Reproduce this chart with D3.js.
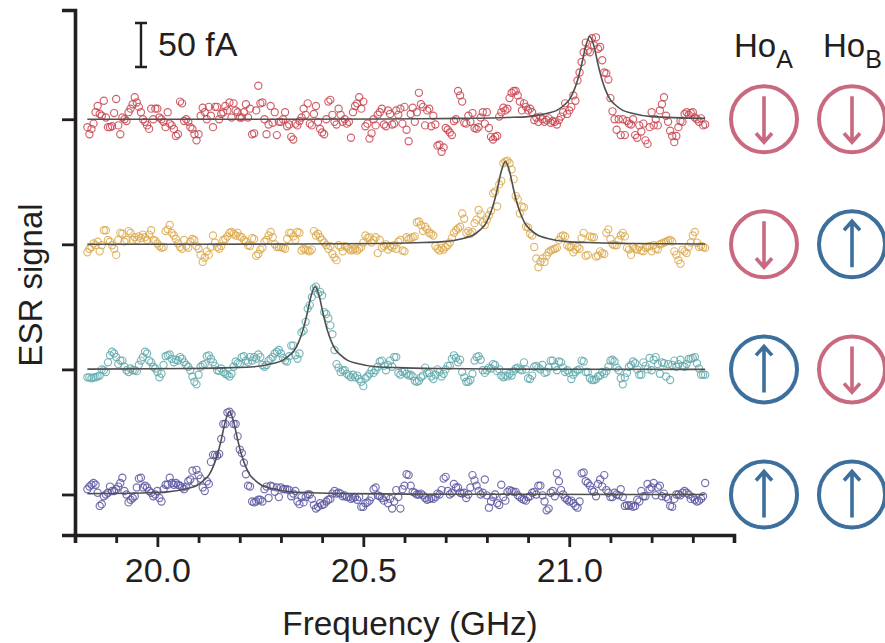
<!DOCTYPE html>
<html>
<head>
<meta charset="utf-8">
<script src="https://cdn.jsdelivr.net/npm/d3@7"></script>
<style>
  html, body { margin: 0; padding: 0; background: #fff; }
  svg { display: block; }
  text { font-family: "Liberation Sans", sans-serif; fill: #231f20; }
</style>
</head>
<body>
<svg id="chart"></svg>
<script>
// ESR signal (fA), one value per 5 MHz sweep step
const redSignal = [
  -9,-17,-11,-5,8,15,6,4,21,2,-9,-9,-8,7,23,-7,-17,2,0,-2,
  8,12,17,25,19,14,8,0,-3,-7,-11,12,0,12,12,2,0,-3,-9,8,
  -5,-7,-11,-19,-17,20,18,-2,0,-3,-9,-11,-17,-24,-17,4,13,8,0,14,
  4,-9,14,14,0,6,8,15,10,19,2,18,10,8,2,2,8,17,2,12,
  -17,-16,10,38,18,19,0,-17,-6,15,-4,8,-18,-3,-3,0,8,-8,-6,-20,
  -23,-5,-7,-2,2,12,5,18,-5,-7,6,15,-3,-11,-15,-17,0,20,22,5,
  -3,-6,12,5,-3,0,-5,-3,-21,8,15,18,25,12,20,-8,-5,-22,-16,0,
  -7,5,8,12,-6,-8,10,6,-6,-5,10,5,12,-5,14,-12,-25,6,13,-3,
  8,30,17,14,-7,10,12,-8,4,-6,-30,-29,-37,-32,-10,-12,-15,-18,-2,0,
  32,27,20,-4,-5,4,-3,7,-10,-11,-9,2,8,-5,8,-10,-20,-23,-20,-19,
  3,8,13,10,12,24,30,32,32,27,20,10,18,14,10,12,8,-1,2,-3,
  3,0,-3,-1,1,-4,-2,-3,-6,-1,3,8,18,6,10,14,27,21,44,53,
  65,76,87,78,76,92,84,93,80,82,67,53,52,45,24,9,0,-12,0,-18,
  0,-18,-2,-5,-6,0,-18,-21,-7,-14,-5,-24,-28,-9,8,-7,0,-7,10,17,
  25,4,-3,-13,-19,-26,-19,-9,-2,-3,6,8,5,7,8,2,0,-3,1,-7,-6
];
const yellowSignal = [
  -9,-5,-3,1,-1,3,-8,-1,16,16,5,3,-1,-5,-12,5,13,12,3,5,
  15,13,5,8,5,9,7,11,8,5,11,16,5,4,1,-2,-4,-3,15,17,
  22,13,10,6,1,-3,-5,5,-2,-4,3,6,5,-2,-5,-12,-20,-15,-8,-12,
  -3,10,2,-3,-5,-2,5,6,9,13,14,12,10,13,9,8,5,3,-1,-2,
  7,6,-13,-11,-6,-4,3,5,10,14,8,0,-3,-3,-3,-4,-5,6,13,13,
  9,5,14,13,-7,-5,-6,-7,-8,-6,15,10,12,8,5,2,-1,-5,-2,-11,
  -15,-18,-1,-3,-8,-2,-3,-5,-7,-6,-5,-7,-5,-3,2,10,7,8,2,5,
  8,-10,5,-4,-2,0,-6,-2,-4,-1,-5,3,5,-7,-8,8,6,7,8,9,
  25,26,22,15,20,17,13,12,10,-2,-5,-7,-4,-6,-3,-1,2,7,13,16,
  18,20,35,29,13,15,12,14,24,28,39,34,25,22,28,33,38,58,60,43,
  68,72,92,94,95,92,85,74,55,51,35,43,42,20,19,12,10,-3,-16,-26,
  -20,-16,-20,-13,-9,-7,-6,-5,-4,5,9,10,9,-1,-3,-3,-9,-6,-3,-5,
  7,13,-13,-12,9,8,8,-14,-13,-8,-10,-11,13,17,6,0,-1,-1,5,10,
  13,9,-4,-6,-12,-3,-5,-6,-3,-7,-8,-4,-3,-2,-8,-1,-5,-6,0,1,
  2,3,4,5,3,-8,-12,-18,-22,-6,-8,-10,-3,2,10,14,2,-3,-2,-3,-4
];
const tealSignal = [
  -9,-9,-10,-9,-9,-8,-7,0,-1,-3,8,16,20,18,14,6,10,10,3,-1,
  -3,1,-1,-1,-2,5,10,14,20,18,10,8,3,1,-3,-9,-5,5,15,16,
  17,12,8,11,10,14,12,8,5,3,-1,-8,-14,-17,-6,3,5,6,15,16,
  12,8,4,-1,-2,1,-3,-5,-6,-8,-5,3,9,7,6,14,15,10,8,14,
  10,14,12,17,14,5,3,5,10,12,14,18,20,22,18,13,10,9,15,27,
  27,16,12,18,42,44,54,69,73,82,92,94,86,88,84,65,63,58,50,40,
  22,6,2,-3,-1,-1,-5,-7,-9,-6,-9,-7,-11,-14,-19,-10,-8,-5,-1,-4,
  -1,3,9,10,4,-1,5,10,3,14,14,-4,-6,-3,-2,-5,-7,-6,-8,-13,
  -14,-13,-9,-7,2,-4,-4,-8,-11,-6,0,-3,-8,-5,0,4,4,12,16,13,
  8,11,-3,-9,-14,-14,-12,-5,10,14,15,11,-1,-4,-1,2,1,6,5,-2,
  0,-7,-9,-7,-8,-5,-7,-2,1,2,0,-1,8,0,-10,-11,-7,3,4,2,
  0,5,-4,-3,2,10,10,3,-1,9,8,2,-3,-1,-4,-11,-6,-3,-1,0,
  10,9,-3,-3,-10,-12,-12,-11,-8,-7,-3,-5,-2,3,10,11,9,2,-1,-10,
  -17,-9,-4,3,5,9,7,0,-6,-6,8,4,0,13,-1,11,14,6,-5,8,
  7,-8,6,-12,5,10,3,6,11,4,3,6,12,12,13,14,7,1,-6,-6,-6
];
const purpleSignal = [
  6,9,11,13,11,2,-13,-11,-2,0,2,9,4,4,6,9,13,19,4,0,
  -9,-6,-4,-2,8,18,19,8,10,8,4,2,-2,0,4,-4,-8,6,11,11,
  19,13,11,13,11,10,8,6,9,15,17,27,14,28,22,18,8,4,15,12,
  37,45,45,44,46,63,80,80,93,94,91,80,80,66,51,47,36,23,10,9,
  -8,-9,-8,-6,-6,-8,6,9,-4,10,9,3,8,-3,8,6,6,6,5,-2,
  1,4,-8,-11,-3,-9,-3,0,0,-5,-12,-16,-14,-10,-12,-11,-8,-6,-5,1,
  4,1,2,1,-2,-1,-3,-3,-5,-4,-3,-6,-3,-14,-14,-10,-9,-7,-3,6,
  8,-1,-2,-4,-7,-3,-10,-5,-16,-8,5,-3,-16,6,10,23,22,10,3,2,
  0,0,1,-1,-4,-6,-5,-4,-5,-3,1,0,5,18,20,4,0,2,12,8,
  8,2,1,2,-4,0,8,22,16,10,4,0,2,17,-1,-15,-8,-3,0,-10,
  -12,11,-3,-7,3,5,4,3,3,-1,-3,-5,-6,-7,-3,-2,2,3,0,10,
  10,-1,-8,-18,-16,2,4,-2,24,15,5,0,-4,-6,-8,-7,-10,-13,-15,-8,
  24,25,15,13,10,5,3,-2,12,17,9,22,5,2,-3,-3,2,0,-1,6,
  -3,-13,-12,-13,-12,-14,-13,-6,-8,4,-2,-2,12,6,8,13,-1,8,10,-2,
  1,-3,-5,-13,-14,-5,0,0,-1,2,4,2,0,-5,-3,-6,-8,-7,-5,-2,13
];

// Fitted curves, frequency (GHz) and signal (fA)
const redFitFreq = [19.83,20.3,20.55,20.75,20.85,20.9,20.95,20.97,20.99,21.0,21.01,21.02,21.03,21.04,21.05,21.06,21.07,21.08,21.09,21.1,21.11,21.13,21.15,21.2,21.33];
const redFit = [0,0,0.3,1,2,3,7,10,17,22,31,44,62,83,94,83,62,44,31,22,17,10,7,3,1];
const yellowFitFreq = [19.83,20.1,20.345,20.545,20.645,20.695,20.745,20.765,20.785,20.795,20.805,20.815,20.825,20.835,20.845,20.855,20.865,20.875,20.885,20.895,20.905,20.925,20.945,20.995,21.045,21.145,21.33];
const yellowFit = [0,0,0.3,1,2,3,7,10,17,22,31,44,62,83,94,83,62,44,31,22,17,10,7,3,2,1,0.3];
const tealFitFreq = [19.83,20.083,20.183,20.233,20.283,20.303,20.323,20.333,20.343,20.353,20.363,20.373,20.383,20.393,20.403,20.413,20.423,20.433,20.443,20.463,20.483,20.533,20.583,20.683,20.883,21.33];
const tealFit = [0.3,1,2,3,7,10,17,22,31,44,62,83,94,83,62,44,31,22,17,10,7,3,2,1,0.3,0];
const purpleFitFreq = [19.83,19.975,20.025,20.075,20.095,20.115,20.125,20.135,20.145,20.155,20.165,20.175,20.185,20.195,20.205,20.215,20.225,20.235,20.255,20.275,20.325,20.375,20.475,20.675,21.33];
const purpleFit = [1,2,3,7,10,17,22,31,44,62,83,94,83,62,44,31,22,17,10,7,3,2,1,0.3,0];

// Vertical offset of each trace (fA), top to bottom
const traceOffsets = [426, 284, 142, 0];
const traceColors = ["#c8444f", "#dcaa50", "#62a9ad", "#5b57a0"];

const xTicks = [19.8,19.9,20.0,20.1,20.2,20.3,20.4,20.5,20.6,20.7,20.8,20.9,21.0,21.1,21.2,21.3,21.4];
const xLabelled = [20.0, 20.5, 21.0];
const sweepRange = [19.83, 21.33];

// Spin states per row, columns are Ho_A and Ho_B
const spinA = ["down", "down", "up", "up"];
const spinB = ["down", "up", "down", "up"];
const spinColors = { down: "#c9697f", up: "#3c6f9c" };

const traces = [
  { signal: redSignal, fitFreq: redFitFreq, fit: redFit },
  { signal: yellowSignal, fitFreq: yellowFitFreq, fit: yellowFit },
  { signal: tealSignal, fitFreq: tealFitFreq, fit: tealFit },
  { signal: purpleSignal, fitFreq: purpleFitFreq, fit: purpleFit }
];

const width = 885;
const height = 643;
const axisInk = "#231f20";

const svg = d3.select("#chart")
    .attr("width", width)
    .attr("height", height);

const xScale = d3.scaleLinear().domain([19.8, 21.4]).range([75, 734]);
const yScale = d3.scaleLinear().domain([-46, 550]).range([535, 10]);

// Scale bar is 50 fA tall, same scale as the traces
const barX = 141;
const barBottom = 67;
const barTop = barBottom - (yScale(0) - yScale(50));

// Data
traces.forEach((trace, row) => {
    const offset = traceOffsets[row];
    const stepScale = d3.scaleLinear().domain([0, trace.signal.length - 1]).range(sweepRange);

    svg.append("g")
        .selectAll("circle")
        .data(trace.signal)
        .join("circle")
        .attr("cx", (d, i) => xScale(stepScale(i)))
        .attr("cy", d => yScale(d + offset))
        .attr("r", 3.6)
        .attr("fill", "none")
        .attr("stroke", traceColors[row])
        .attr("stroke-width", 1.15)
        .attr("stroke-opacity", 0.85);

    const line = d3.line()
        .x((d, i) => xScale(trace.fitFreq[i]))
        .y(d => yScale(d + offset))
        .curve(d3.curveMonotoneX);

    svg.append("path")
        .datum(trace.fit)
        .attr("fill", "none")
        .attr("stroke", "#4f4f4f")
        .attr("stroke-width", 1.6)
        .attr("d", line);
});

// Axes
const xAxis = svg.append("g")
    .attr("transform", `translate(0, ${yScale.range()[0]})`)
    .call(d3.axisBottom(xScale)
        .tickValues(xTicks)
        .tickSize(8)
        .tickPadding(15)
        .tickFormat(d => xLabelled.includes(d) ? d3.format(".1f")(d) : ""));

xAxis.selectAll(".tick line")
    .attr("y2", d => xLabelled.includes(d) ? 12 : 8);

const yAxis = svg.append("g")
    .attr("transform", `translate(${xScale.range()[0]}, 0)`)
    .call(d3.axisLeft(yScale)
        .tickValues(traceOffsets)
        .tickSize(13)
        .tickFormat(""));

[xAxis, yAxis].forEach(axis => {
    axis.select(".domain")
        .attr("stroke", axisInk)
        .attr("stroke-width", 3.6);
    axis.selectAll(".tick line")
        .attr("stroke", axisInk)
        .attr("stroke-width", 2.8);
});

xAxis.selectAll(".tick text")
    .style("font-size", "34px")
    .attr("fill", axisInk);

svg.append("text")
    .attr("x", 410)
    .attr("y", 635)
    .attr("text-anchor", "middle")
    .style("font-size", "33.3px")
    .text("Frequency (GHz)");

svg.append("text")
    .attr("transform", "translate(42, 285) rotate(-90)")
    .attr("text-anchor", "middle")
    .style("font-size", "33px")
    .text("ESR signal");

// 50 fA scale bar
svg.append("path")
    .attr("fill", "none")
    .attr("stroke", axisInk)
    .attr("stroke-width", 2.4)
    .attr("d", `M${barX - 6},${barTop}H${barX + 6}M${barX},${barTop}V${barBottom}M${barX - 6},${barBottom}H${barX + 6}`);

svg.append("text")
    .attr("x", 158)
    .attr("y", 56)
    .style("font-size", "34px")
    .text("50 fA");

// Spin columns
const columns = [
    { name: "A", cx: 764, labelX: 734, spins: spinA },
    { name: "B", cx: 852, labelX: 823, spins: spinB }
];

columns.forEach(col => {
    const label = svg.append("text")
        .attr("x", col.labelX)
        .attr("y", 57)
        .style("font-size", "33px")
        .text("Ho");
    label.append("tspan")
        .attr("dy", 11)
        .style("font-size", "25px")
        .text(col.name);

    const icons = svg.append("g")
        .selectAll("g")
        .data(col.spins)
        .join("g")
        .attr("transform", (d, i) => `translate(${col.cx}, ${yScale(traceOffsets[i])})`)
        .attr("fill", "none")
        .attr("stroke", d => spinColors[d]);

    icons.append("circle")
        .attr("r", 33)
        .attr("stroke-width", 4);

    icons.append("path")
        .attr("stroke-width", 3.6)
        .attr("d", d => {
            const dir = d === "up" ? -1 : 1;
            return `M0,${-23 * dir}V${23 * dir}M-8,${14 * dir}L0,${23 * dir}L8,${14 * dir}`;
        });
});
</script>
</body>
</html>
